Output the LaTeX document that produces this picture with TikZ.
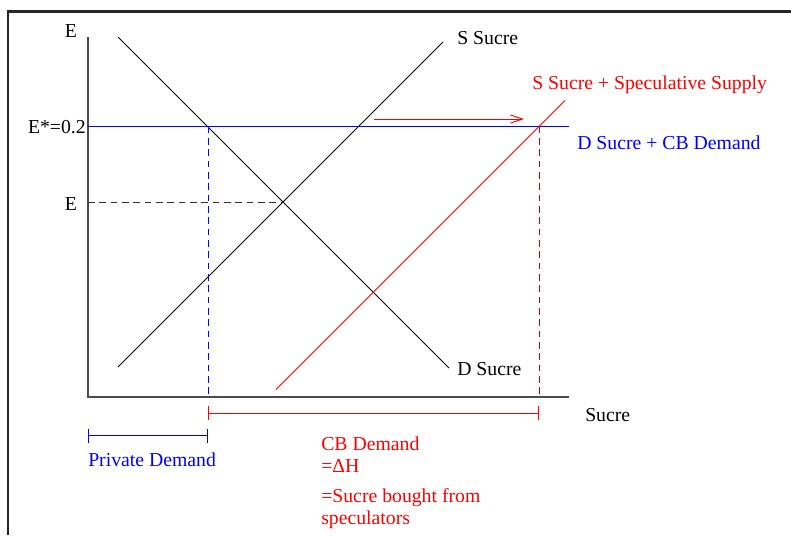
\documentclass[tikz,border=0pt]{standalone}
\usepackage{fontspec}
\setmainfont{Liberation Serif}
\usetikzlibrary{arrows.meta}
\definecolor{sucreblue}{RGB}{0,0,255}
\definecolor{sucrered}{RGB}{255,0,0}

\begin{document}
\begin{tikzpicture}[x=0.75pt, y=-0.75pt,
  font=\fontsize{14.8}{16.5}\selectfont,
  curve/.style={line width=0.7pt},
  guide/.style={line width=0.75pt, dash pattern=on 5pt off 3.5pt},
  lbl/.style={inner sep=0pt, anchor=base west}]
\useasboundingbox (0,0) rectangle (791,535);
% frame
\draw[line width=2pt, black!85] (8,535) -- (8,11.5) -- (791,11.5);
% axes
\coordinate (O) at (88,397);
\coordinate (ytop) at (88,37);
\coordinate (xend) at (569,397);
\draw[black!70, line width=0.8pt] (ytop) -- (O) -- (xend);
% curves
\coordinate (dtop) at (118,37);
\coordinate (dbot) at (449,368);
\coordinate (sbot) at (118,367);
\coordinate (stop) at (443,42);
\coordinate (eq) at (283,202);
\draw[curve] (dtop) -- (dbot);
\draw[curve] (sbot) -- (stop);
\coordinate (bl) at (88,126.5);
\coordinate (br) at (569,126.5);
\coordinate (pd) at (208,126.5);
\coordinate (cb) at (539,126.5);
\draw[sucreblue, line width=0.9pt] (bl) -- (br);
\coordinate (rbot) at (276,389.5);
\coordinate (rtop) at (565,100.5);
\draw[sucrered, curve] (rbot) -- (rtop);
\coordinate (ea) at (374,119);
\coordinate (eb) at (524,119);
\draw[sucrered, curve, -{Straight Barb[length=9pt,width=6pt]}] (ea) -- (eb);
% guides
\coordinate (ey) at (88,202);
\draw[guide, black!80] (ey) -- (eq);
\draw[guide, draw=sucreblue] (pd) -- (pd |- O);
\draw[guide, draw=sucrered!80!black] (cb) -- (cb |- O);
% brackets
\coordinate (ra) at (208,413);
\coordinate (rb) at (539,413);
\draw[sucrered, curve, {Bar[width=10.5pt]}-{Bar[width=10.5pt]}] (ra) -- (rb);
\coordinate (pa) at (88,435.5);
\coordinate (pb) at (208,435.5);
\draw[sucreblue, curve, {Bar[width=10.5pt]}-{Bar[width=10.5pt]}] (pa) -- (pb);
% labels
\node[inner sep=0pt, anchor=base] (ylab) at (71,37.3) {E};
\node[inner sep=0pt, anchor=base east] (estar) at (86,133.3) {E*=0.2};
\node[inner sep=0pt, anchor=base] (elab) at (71,210) {E};
\node[lbl] (slab) at (457,44.5) {S Sucre};
\node[lbl, sucrered] (sslab) at (532,89.3) {S Sucre + Speculative Supply};
\node[lbl, sucreblue] (ddlab) at (577,149) {D Sucre + CB Demand};
\node[lbl] (dlab) at (457,375) {D Sucre};
\node[lbl] (xlab) at (585,421) {Sucre};
\node[lbl, sucreblue] (pdlab) at (88,466) {Private Demand};
\node[inner sep=0pt, anchor=north west, align=left, sucrered] (cblab) at (321,437)
  {CB Demand\\=ΔH\\[6pt]=Sucre bought from\\speculators};
\end{tikzpicture}
\end{document}
